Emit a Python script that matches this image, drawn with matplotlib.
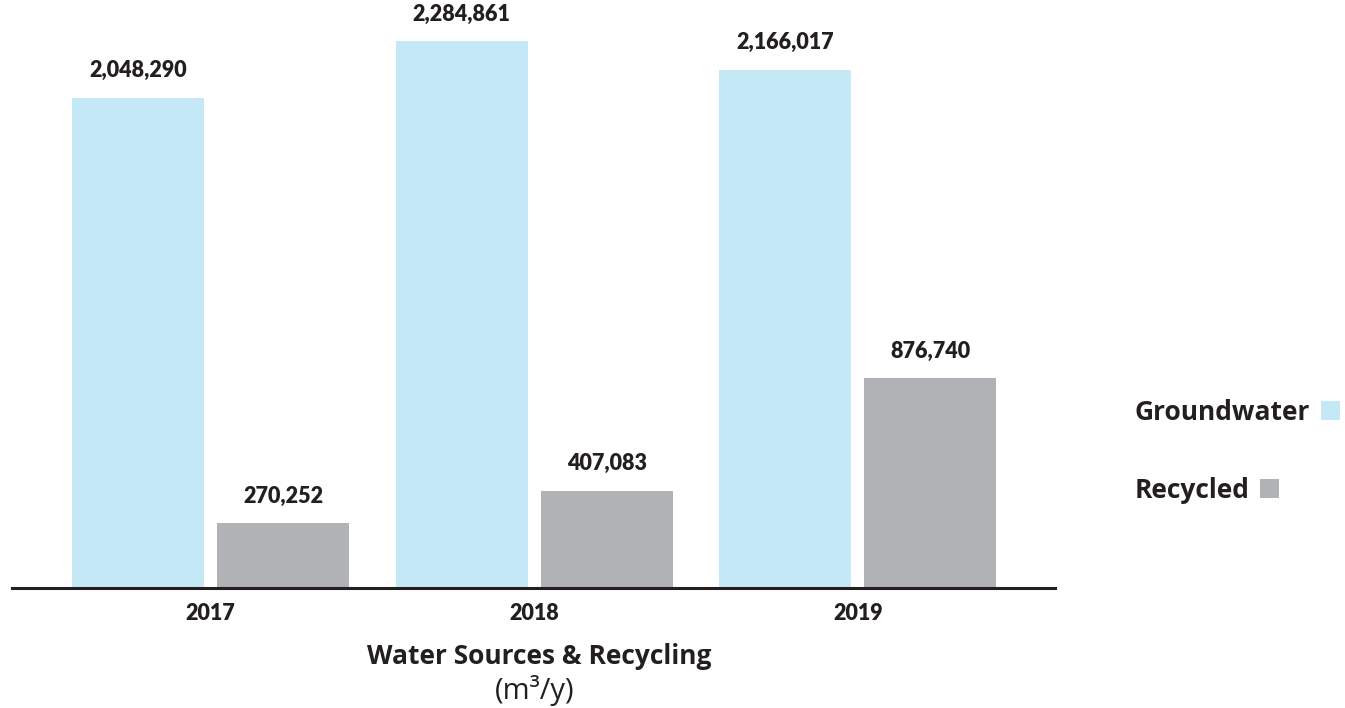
import matplotlib
matplotlib.use("Agg")
import matplotlib.pyplot as plt
import numpy as np

years = ["2017", "2018", "2019"]
groundwater = [2048290, 2284861, 2166017]
recycled = [270252, 407083, 876740]
series_names = ["Groundwater", "Recycled"]

C_GW = "#C5E8F7"
C_RC = "#B1B2B6"
C_TXT = "#231F20"

W, H = 1345, 708
fig = plt.figure(figsize=(W / 100, H / 100), dpi=100)
base_px = 588
ax = fig.add_axes([12 / W, (H - base_px) / H, 1043 / W, (base_px - 0) / H])

x = np.arange(len(years))
unit = 323.5
bw = 132 / unit
off = 72.5 / unit
b1 = ax.bar(x - off, groundwater, width=bw, color=C_GW, label=series_names[0], zorder=2)
b2 = ax.bar(x + off, recycled, width=bw, color=C_RC, label=series_names[1], zorder=2)

ax.set_xlim((12 - 210.7) / unit, (1055 - 210.7) / unit)
ax.set_ylim(0, 588 * 4180)

for bars, vals in ((b1, groundwater), (b2, recycled)):
    for r, v in zip(bars, vals):
        ax.annotate(f"{v:,}", (r.get_x() + r.get_width() / 2, v), xytext=(0, 12),
                    textcoords="offset points", ha="center", va="bottom",
                    fontsize=15.5, fontweight="heavy", family="Lato", color=C_TXT)

for s in ["top", "right", "left"]:
    ax.spines[s].set_visible(False)
ax.spines["bottom"].set_linewidth(2.2)
ax.spines["bottom"].set_color(C_TXT)
ax.set_yticks([])
ax.set_xticks(x)
ax.set_xticklabels(years, fontsize=15.5, fontweight="heavy", family="Lato", color=C_TXT)
ax.tick_params(axis="x", length=0, pad=11)

fig.text(539 / W, 1 - 656 / H, "Water Sources & Recycling", ha="center", va="center",
         fontsize=19, fontweight="bold", family="Open Sans", color=C_TXT)
fig.text(535 / W, 1 - 690 / H, "(m³/y)", ha="center", va="center",
         fontsize=21, family="Open Sans", color=C_TXT)

for bars, name, ypx in ((b1, series_names[0], 412), (b2, series_names[1], 490)):
    leg = fig.legend(handles=[bars], labels=[name], loc="center left",
                     bbox_to_anchor=(1135 / W, 1 - ypx / H), frameon=False,
                     markerfirst=False, handlelength=0.72, handleheight=0.72,
                     handletextpad=0.4, borderpad=0, borderaxespad=0,
                     prop={"family": "Open Sans", "weight": "bold", "size": 19})
    for t in leg.get_texts():
        t.set_color(C_TXT)

fig.savefig("out.png", dpi=100, facecolor="white")
